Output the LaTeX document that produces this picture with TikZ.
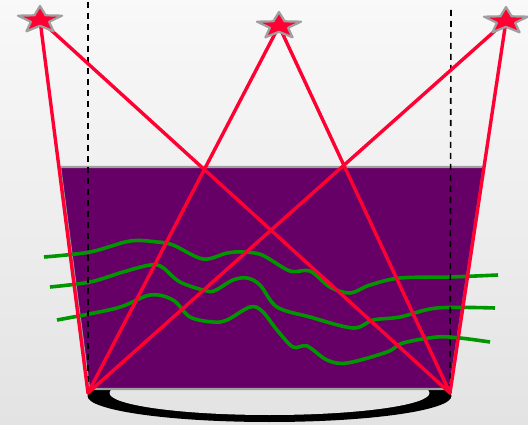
\documentclass[tikz,border=0pt]{standalone}
\usepackage{tikz}
\usetikzlibrary{calc}
\usepackage{xcolor}
\definecolor{beamRed}{RGB}{255, 0, 51}
\definecolor{tankPurple}{RGB}{102, 0, 102}
\definecolor{waveGreen}{RGB}{0, 150, 0}
\newcommand{\lampstar}[1]{%
  \begin{scope}[shift={(#1)}, xscale=1.65]
    \filldraw[fill=beamRed, draw=gray!75, line width=2.2pt, line join=round]
      (270:14) \foreach \k [evaluate=\k as \rr using {mod(\k,2)==0 ? 14 : 5.8}]
      in {1,...,9} { -- ({270+36*\k}:\rr) } -- cycle;
  \end{scope}}

\begin{document}
\begin{tikzpicture}[x=1pt, y=-1pt,
    backdrop/.style={top color=gray!5, bottom color=gray!22},
    beam/.style={beamRed, line width=3.4pt, line cap=round},
    wave/.style={waveGreen, line width=3.6pt},
    guide/.style={black, line width=1.6pt, dash pattern=on 6pt off 5pt}]
  \useasboundingbox (0,0) rectangle (528,425);
  \shade[backdrop] (0,0) rectangle (528,425);

  % --- points ---
  \coordinate (starL) at (40,20);
  \coordinate (starM) at (279,26);
  \coordinate (starR) at (506,21);
  \coordinate (cornerL) at (88,393);
  \coordinate (cornerR) at (450,393);
  \coordinate (guideL) at (88,2);
  \coordinate (guideR) at (451,10);

  % --- ring under the tank ---
  \fill[black] (269.5,396) ellipse [x radius=182, y radius=26];
  \begin{scope}
    \clip (269.5,393) ellipse [x radius=160, y radius=22];
    \shade[backdrop] (0,0) rectangle (528,425);
  \end{scope}

  % --- tank ---
  \filldraw[fill=tankPurple, draw=gray!75, line width=2.4pt]
    (60,167) -- (484,167) -- (450,389) -- (89,389) -- cycle;

  % --- waves ---
  \draw[wave] plot[smooth, tension=0.55] coordinates {(44,257) (90,252) (130,241)
    (157,242) (173,245) (203,259) (227,253) (243,252) (262,255) (290,271) (310,271)
    (330,287) (350,293) (370,285) (400,278) (450,277) (498,275)};
  \draw[wave] plot[smooth, tension=0.55] coordinates {(50,287) (90,282) (123,272)
    (150,265) (162,267) (180,282) (207,291) (216,290) (233,280) (247,278) (260,285)
    (277,307) (310,317) (353,328) (373,320) (400,317) (437,308) (495,308)};
  \draw[wave] plot[smooth, tension=0.55] coordinates {(57,320) (117,308) (150,295)
    (173,300) (190,317) (213,322) (227,320) (250,307) (262,311) (277,330) (293,347)
    (307,346) (327,360) (347,363) (387,352) (403,343) (437,337) (460,338) (490,342)};

  % --- guides ---
  \draw[guide] (guideL) -- (cornerL);
  \draw[guide] (guideR) -- (cornerR);

  % --- beams ---
  \foreach \s in {starL, starM, starR} {
    \draw[beam] (\s) -- (cornerL);
    \draw[beam] (\s) -- (cornerR);
  }

  % --- lamps ---
  \lampstar{starL}
  \lampstar{starM}
  \lampstar{starR}
\end{tikzpicture}
\end{document}
